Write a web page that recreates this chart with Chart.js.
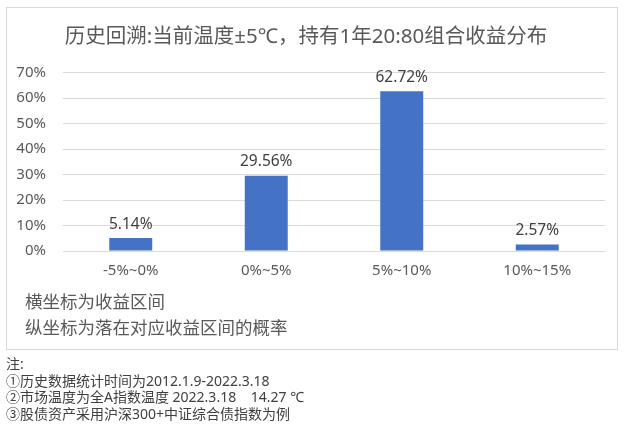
<!DOCTYPE html>
<html>
<head>
<meta charset="utf-8">
<script src="https://cdn.jsdelivr.net/npm/chart.js@4"></script>
<style>
    body { margin: 0; background: #fff; width: 624px; height: 432px; position: relative;
           font-family: "Noto Sans", "Noto Sans CJK SC", sans-serif; }
    #box { position: absolute; left: 6px; top: 7px; width: 610px; height: 341px;
           border: 1px solid #d9d9d9; }
    #box canvas { position: absolute; left: 0; top: 0; }
    .axis-note { position: absolute; left: 18px; font-size: 17.5px; color: #595959; white-space: nowrap; }
    #notes { position: absolute; left: 6px; top: 356px; font-size: 14px; line-height: 16.6px; color: #404040; }
</style>
</head>
<body>
<div id="box">
    <canvas id="chart" width="610" height="341"></canvas>
    <div class="axis-note" style="top: 280px;">横坐标为收益区间</div>
    <div class="axis-note" style="top: 306px;">纵坐标为落在对应收益区间的概率</div>
</div>
<div id="notes">
    注:<br>
    ①历史数据统计时间为2012.1.9-2022.3.18<br>
    ②市场温度为全A指数温度 2022.3.18&nbsp;&nbsp;&nbsp;&nbsp;14.27 ℃<br>
    ③股债资产采用沪深300+中证综合债指数为例
</div>
<script>
// Chart data
const categories = ['-5%~0%', '0%~5%', '5%~10%', '10%~15%'];
const probabilities = [5.14, 29.56, 62.72, 2.57];
const yTicks = [0, 10, 20, 30, 40, 50, 60, 70];

const FONT = '"Noto Sans", "Noto Sans CJK SC", sans-serif';

// Draw value labels above each bar
const barLabels = {
    id: 'barLabels',
    afterDatasetsDraw(chart) {
        const ctx = chart.ctx;
        const meta = chart.getDatasetMeta(0);
        ctx.save();
        ctx.font = '15.5px ' + FONT;
        ctx.fillStyle = '#404040';
        ctx.textAlign = 'center';
        ctx.textBaseline = 'bottom';
        meta.data.forEach((bar, i) => {
            ctx.fillText(probabilities[i].toFixed(2) + '%', bar.x, bar.y - 6);
        });
        ctx.restore();
    }
};

new Chart(document.getElementById('chart'), {
    type: 'bar',
    data: {
        labels: categories,
        datasets: [{
            data: probabilities,
            backgroundColor: '#4472c4',
            categoryPercentage: 1,
            barPercentage: 0.317
        }]
    },
    options: {
        responsive: false,
        animation: false,
        layout: { padding: { right: 12 } },
        plugins: {
            legend: { display: false },
            tooltip: { enabled: false },
            title: {
                display: true,
                text: '历史回溯:当前温度±5℃，持有1年20:80组合收益分布',
                color: '#595959',
                font: { family: FONT, size: 20.5, weight: 'normal' },
                padding: { top: 17, bottom: 23 }
            }
        },
        scales: {
            x: {
                grid: { display: false, drawTicks: false },
                border: { display: false },
                ticks: { color: '#595959', font: { family: FONT, size: 15 }, padding: 11 },
                afterFit(scale) { scale.height = 98; }
            },
            y: {
                min: 0,
                max: 70,
                afterBuildTicks(scale) { scale.ticks = yTicks.map(v => ({ value: v })); },
                grid: { color: '#d9d9d9', drawTicks: false },
                border: { display: false },
                ticks: {
                    color: '#595959',
                    font: { family: FONT, size: 15 },
                    padding: 17,
                    callback: v => v + '%'
                },
                afterFit(scale) { scale.width = 56; }
            }
        }
    },
    plugins: [barLabels]
});
</script>
</body>
</html>
